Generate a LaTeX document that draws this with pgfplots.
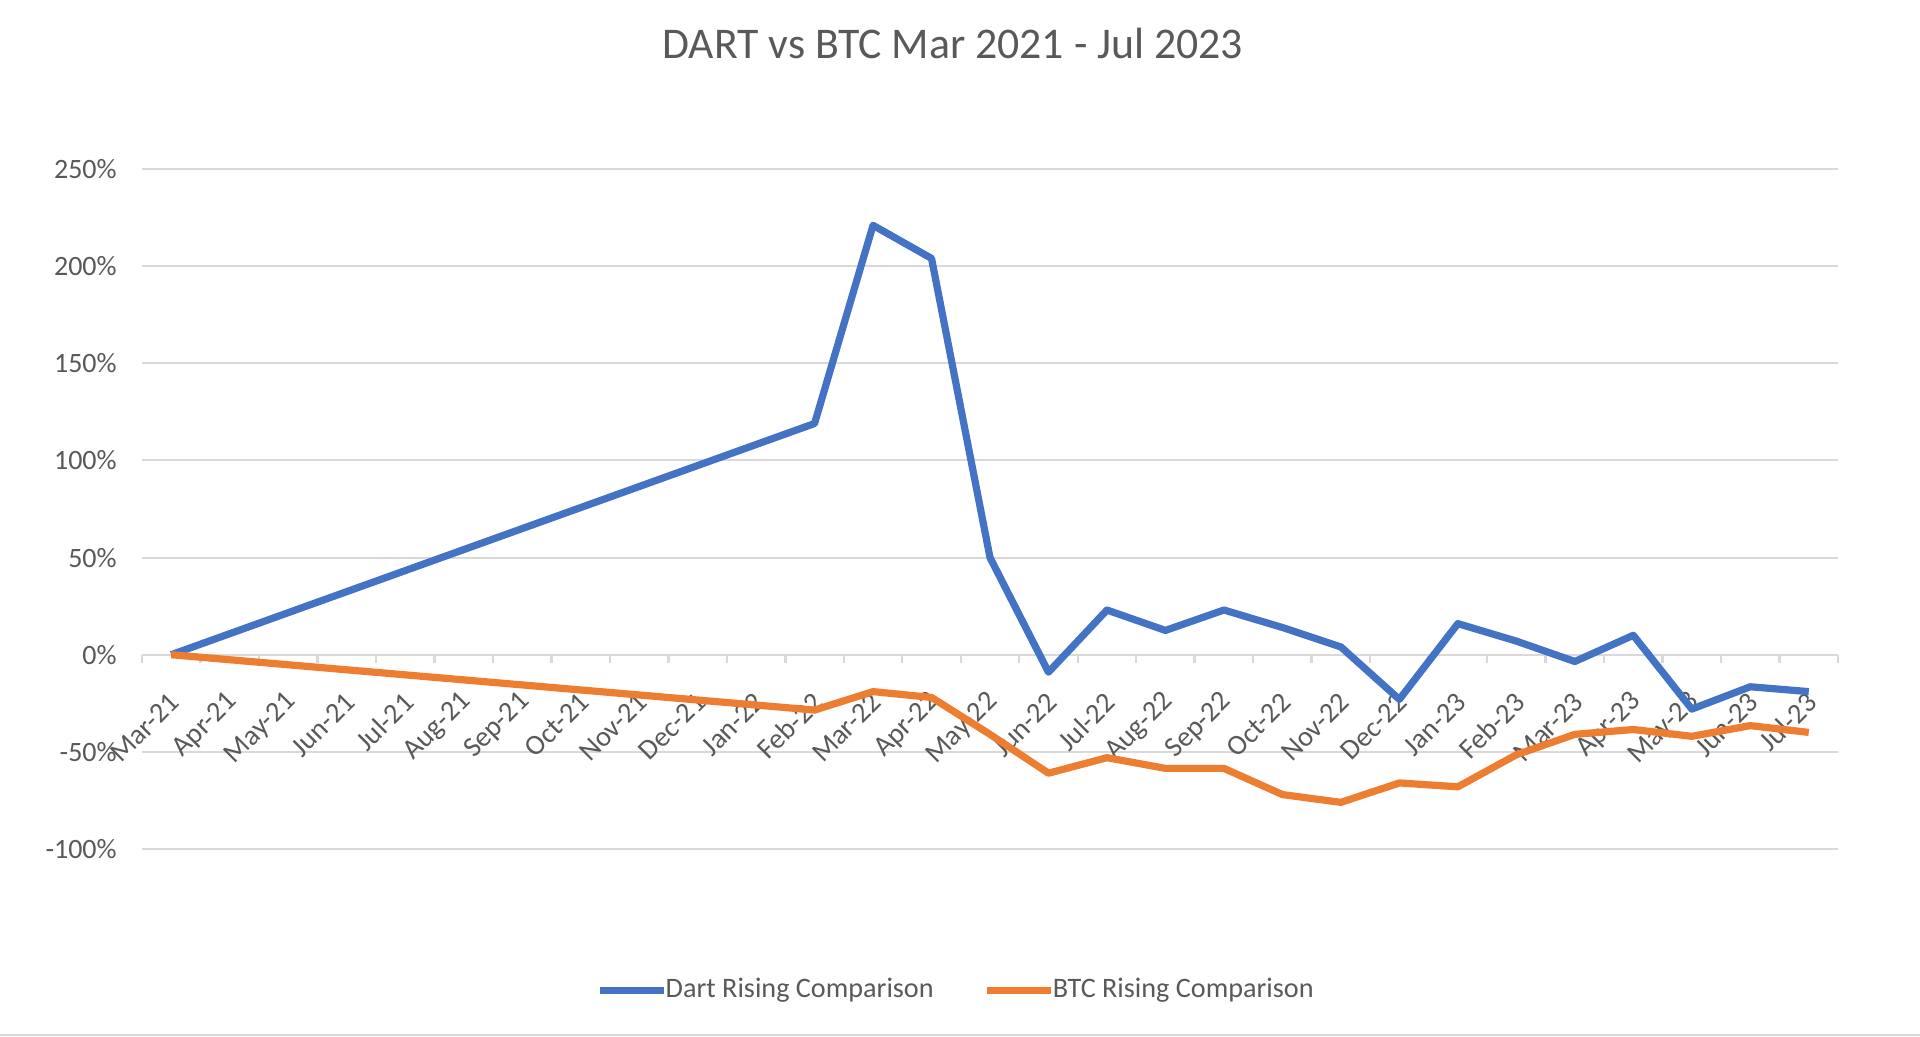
\documentclass[border=0pt]{standalone}
\usepackage{pgfplots}
\pgfplotsset{compat=1.18}
\usepackage{fontspec}
\setmainfont{Carlito}
\definecolor{dartblue}{HTML}{4472C4}
\definecolor{btcorange}{HTML}{ED7D31}
\definecolor{gridgray}{HTML}{D9D9D9}
\definecolor{txtgray}{HTML}{595959}
\begin{document}
\begin{tikzpicture}
\path[use as bounding box] (0,0) rectangle (480pt,259.25pt);
\draw[gridgray, line width=0.5pt] (0,0.4pt) -- (480pt,0.4pt);
\begin{axis}[
  at={(35.5pt,47pt)}, anchor=south west,
  scale only axis, width=424pt, height=170pt,
  xmin=-0.5, xmax=28.5, ymin=-100, ymax=250,
  axis x line=middle, axis y line=left,
  x axis line style={-, draw=gridgray, line width=0.6pt},
  y axis line style={draw=none},
  hide obscured x ticks=false, hide obscured y ticks=false,
  xtick={0,...,28},
  xticklabels={Mar-21,Apr-21,May-21,Jun-21,Jul-21,Aug-21,Sep-21,Oct-21,Nov-21,Dec-21,Jan-22,Feb-22,Mar-22,Apr-22,May-22,Jun-22,Jul-22,Aug-22,Sep-22,Oct-22,Nov-22,Dec-22,Jan-23,Feb-23,Mar-23,Apr-23,May-23,Jun-23,Jul-23},
  minor xtick={-0.5,0.5,...,28.5},
  major tick length=0pt, minor tick length=2pt,
  tick align=outside,
  minor tick style={draw=gridgray, line width=0.6pt},
  xticklabel style={rotate=45, anchor=east, font=\fontsize{7.1}{8}\selectfont, text=txtgray, yshift=-8.2pt, xshift=-3.5pt},
  ytick={-100,-50,0,50,100,150,200,250},
  yticklabels={-100\%,-50\%,0\%,50\%,100\%,150\%,200\%,250\%},
  yticklabel style={font=\fontsize{7}{8}\selectfont, text=txtgray, xshift=-2.8pt},
  ymajorgrids,
  major grid style={draw=gridgray, line width=0.5pt},
  title={DART vs BTC Mar 2021 - Jul 2023},
  title style={at={(0.478,1.15)}, anchor=center, font=\fontsize{10.95}{12}\selectfont, text=txtgray},
  legend columns=2,
  legend style={at={(0.4806,-0.208)}, anchor=center, draw=none, fill=none,
    font=\fontsize{7.05}{8}\selectfont, text=txtgray,
    nodes={inner sep=1pt},
    /tikz/every odd column/.append style={column sep=-1.5pt},
    /tikz/every even column/.append style={column sep=11.5pt}},
  legend image code/.code={\draw[#1] (0pt,0pt) -- (16pt,0pt);},
  clip=false,
]
\addplot[dartblue, line width=1.8pt, line join=round] coordinates {
(0,0) (11,119) (12,221) (13,204) (14,50) (15,-9) (16,23) (17,12.5) (18,23) (19,14) (20,4) (21,-23) (22,16) (23,7) (24,-3.5) (25,10) (26,-28) (27,-16.5) (28,-19)
};
\addlegendentry{Dart Rising Comparison}
\addplot[btcorange, line width=1.8pt, line join=round] coordinates {
(0,0) (11,-28.5) (12,-19) (13,-22) (14,-41) (15,-61) (16,-53) (17,-58.5) (18,-58.5) (19,-72) (20,-76) (21,-66) (22,-68) (23,-51.5) (24,-41) (25,-38.5) (26,-42) (27,-36.5) (28,-40)
};
\addlegendentry{BTC Rising Comparison}
\end{axis}
\end{tikzpicture}
\end{document}
